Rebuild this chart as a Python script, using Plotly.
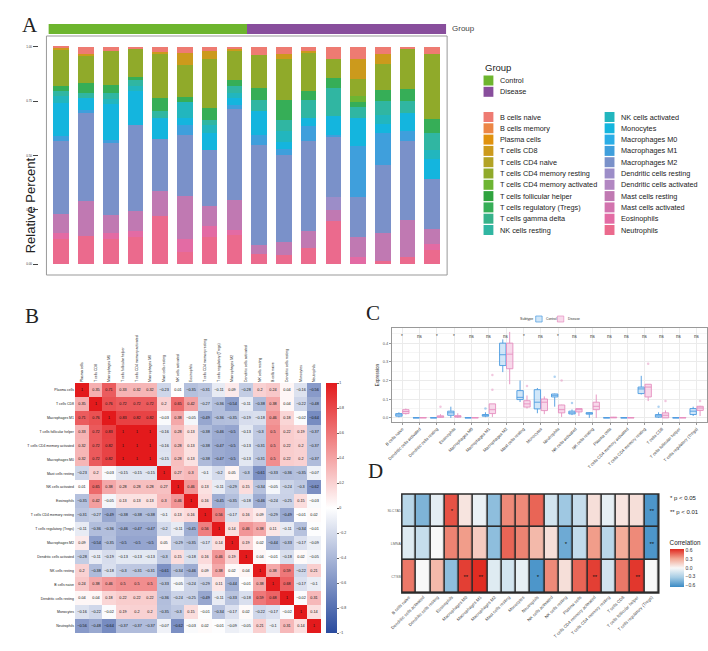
import plotly.graph_objects as go

W, H = 708, 651
def fx(p): return p / W
def fy(p): return 1 - p / H

FONT = "Liberation Sans, Arial, sans-serif"
SERIF = "Liberation Serif, DejaVu Serif, serif"

# ---------------- Panel A data ----------------
cells = ["B cells naive", "B cells memory", "Plasma cells", "T cells CD8", "T cells CD4 naive",
         "T cells CD4 memory resting", "T cells CD4 memory activated", "T cells follicular helper",
         "T cells regulatory (Tregs)", "T cells gamma delta", "NK cells resting", "NK cells activated",
         "Monocytes", "Macrophages M0", "Macrophages M1", "Macrophages M2", "Dendritic cells resting",
         "Dendritic cells activated", "Mast cells resting", "Mast cells activated", "Eosinophils", "Neutrophils"]
cell_colors = ["#EE7B72", "#EC8645", "#E0920E", "#CC9A1C", "#B3A325", "#90AA2A", "#6DB533", "#2FA33E",
               "#36AE57", "#36B28A", "#30B6A2", "#22B6BE", "#14B5DE", "#2AADE6", "#3F9FDC", "#7A91C9",
               "#9C8DC8", "#B287C2", "#C079B2", "#D273AE", "#E36BA4", "#EB6A8D"]
samples = list(range(1, 17))
sample_group = ["Control"] * 8 + ["Disease"] * 8
group_colors = {"Control": "#6DB52E", "Disease": "#884E9C"}
zero = [0] * 16
frac = {
    "B cells naive": [.005, .031, .017, .009, .025, .028, .017, .009, .038, .035, .017, .055, .055, .031, .012, .035],
    "B cells memory": zero,
    "Plasma cells": zero,
    "T cells CD8": [.007, .012, 0, 0, .006, .056, .037, .006, 0, .023, .011, 0, .091, .046, 0, 0],
    "T cells CD4 naive": zero,
    "T cells CD4 memory resting": [.166, .123, .157, .131, .204, .148, .227, .136, .151, .185, .176, .088, .081, .120, .180, .297],
    "T cells CD4 memory activated": [0, 0, 0, 0, 0, 0, 0, 0, 0, 0, 0, 0, .028, 0, 0, 0],
    "T cells follicular helper": zero,
    "T cells regulatory (Tregs)": [.026, .046, .038, .014, .058, .023, .054, .030, .054, .092, .039, .046, .023, .050, .058, .064],
    "T cells gamma delta": zero,
    "NK cells resting": [.023, .023, .028, .027, .034, 0, .023, .031, .050, .051, .084, .130, .049, .065, .054, .077],
    "NK cells activated": [.031, 0, .021, .023, 0, .072, .038, .023, 0, .053, 0, 0, 0, .041, 0, .043],
    "Monocytes": [.154, .054, .166, .157, .097, .031, .077, .031, .111, .031, .039, .085, .131, .043, .085, .092],
    "Macrophages M0": zero,
    "Macrophages M1": [.02, .015, .015, 0, 0, .046, 0, .018, .049, .029, .066, .012, .233, .146, .043, 0],
    "Macrophages M2": [.338, .407, .331, .396, .241, .284, .258, .420, .458, .397, .417, .275, .182, .315, .364, .231],
    "Dendritic cells resting": [0, 0, 0, 0, 0, 0, 0, 0, 0, 0, 0, .059, 0, 0, 0, 0],
    "Dendritic cells activated": zero,
    "Mast cells resting": [.087, .161, .084, .092, .115, .197, .095, .138, .043, .064, .077, .050, .092, .128, .173, .067],
    "Mast cells activated": zero,
    "Eosinophils": [.026, 0, .026, .027, 0, .057, .051, .026, 0, 0, 0, 0, .035, 0, 0, .028],
    "Neutrophils": [.117, .128, .117, .124, .220, .058, .123, .132, .046, .040, .074, .200, 0, .015, .031, .066],
}
a_yticks = [0, 0.25, 0.5, 0.75, 1.0]

# ---------------- Panel B data ----------------
b_names = ["Plasma cells", "T cells CD8", "Macrophages M1", "T cells follicular helper",
           "T cells CD4 memory activated", "Macrophages M0", "Mast cells resting", "NK cells activated",
           "Eosinophils", "T cells CD4 memory resting", "T cells regulatory (Tregs)", "Macrophages M2",
           "Dendritic cells activated", "NK cells resting", "B cells naive", "Dendritic cells resting",
           "Monocytes", "Neutrophils"]
b_corr = [
    [1, 0.35, 0.71, 0.33, 0.32, 0.32, -0.23, 0.01, -0.35, -0.31, -0.11, 0.09, -0.28, 0.2, 0.24, 0.04, -0.16, -0.56],
    [0.35, 1, 0.76, 0.72, 0.72, 0.72, 0.2, 0.65, 0.42, -0.27, -0.36, -0.54, -0.11, -0.38, 0.38, 0.04, -0.22, -0.48],
    [0.71, 0.76, 1, 0.83, 0.82, 0.82, -0.03, 0.38, -0.05, -0.49, -0.36, -0.35, -0.19, -0.18, 0.46, 0.18, -0.02, -0.64],
    [0.33, 0.72, 0.83, 1, 1, 1, -0.16, 0.28, 0.13, -0.38, -0.46, -0.5, -0.13, -0.3, 0.5, 0.22, 0.19, -0.37],
    [0.32, 0.72, 0.82, 1, 1, 1, -0.16, 0.28, 0.13, -0.38, -0.47, -0.5, -0.13, -0.31, 0.5, 0.22, 0.2, -0.37],
    [0.32, 0.72, 0.82, 1, 1, 1, -0.15, 0.28, 0.13, -0.38, -0.47, -0.5, -0.13, -0.31, 0.5, 0.22, 0.2, -0.37],
    [-0.23, 0.2, -0.03, -0.15, -0.15, -0.15, 1, 0.27, 0.3, -0.1, -0.2, 0.05, -0.3, -0.61, -0.33, -0.36, -0.35, -0.07],
    [0.01, 0.65, 0.38, 0.28, 0.28, 0.28, 0.27, 1, 0.46, 0.13, -0.11, -0.29, 0.15, -0.34, -0.05, -0.24, -0.3, -0.62],
    [-0.35, 0.42, -0.05, 0.13, 0.13, 0.13, 0.3, 0.46, 1, 0.16, -0.45, -0.35, -0.18, -0.46, -0.24, -0.25, 0.15, -0.03],
    [-0.31, -0.27, -0.49, -0.38, -0.38, -0.38, -0.1, 0.13, 0.16, 1, 0.56, -0.17, 0.16, 0.09, -0.29, -0.49, -0.01, 0.02],
    [-0.11, -0.36, -0.36, -0.46, -0.47, -0.47, -0.2, -0.11, -0.45, 0.56, 1, 0.14, 0.46, 0.38, 0.11, -0.11, -0.34, -0.01],
    [0.09, -0.54, -0.35, -0.5, -0.5, -0.5, 0.05, -0.29, -0.35, -0.17, 0.14, 1, 0.19, 0.02, -0.44, -0.33, -0.17, -0.09],
    [-0.28, -0.11, -0.19, -0.13, -0.13, -0.13, -0.3, 0.15, -0.18, 0.16, 0.46, 0.19, 1, 0.04, -0.01, -0.18, 0.02, -0.05],
    [0.2, -0.38, -0.18, -0.3, -0.31, -0.31, -0.61, -0.34, -0.46, 0.09, 0.38, 0.02, 0.04, 1, 0.38, 0.59, -0.22, 0.21],
    [0.24, 0.38, 0.46, 0.5, 0.5, 0.5, -0.33, -0.05, -0.24, -0.29, 0.11, -0.44, -0.01, 0.38, 1, 0.68, -0.17, -0.1],
    [0.04, 0.04, 0.18, 0.22, 0.22, 0.22, -0.36, -0.24, -0.25, -0.49, -0.11, -0.33, -0.18, 0.59, 0.68, 1, -0.02, 0.31],
    [-0.16, -0.22, -0.02, 0.19, 0.2, 0.2, -0.35, -0.3, 0.15, -0.01, -0.34, -0.17, 0.02, -0.22, -0.17, -0.02, 1, 0.14],
    [-0.56, -0.48, -0.64, -0.37, -0.37, -0.37, -0.07, -0.62, -0.03, 0.02, -0.01, -0.09, -0.05, 0.21, -0.1, 0.31, 0.14, 1],
]
b_ticks = [-1, -0.8, -0.6, -0.4, -0.2, 0, 0.2, 0.4, 0.6, 0.8, 1]

# ---------------- Panel C data ----------------
c_names = ["B cells naive", "Dendritic cells activated", "Dendritic cells resting", "Eosinophils",
           "Macrophages M0", "Macrophages M1", "Macrophages M2", "Mast cells resting", "Monocytes",
           "Neutrophils", "NK cells activated", "NK cells resting", "Plasma cells",
           "T cells CD4 memory activated", "T cells CD4 memory resting", "T cells CD8",
           "T cells follicular helper", "T cells regulatory (Tregs)"]
c_sig = ["*", "ns", "*", "*", "ns", "ns", "ns", "*", "ns", "*", "ns", "ns", "ns", "ns", "ns", "ns", "ns", "ns"]
ctrl_lo = [0.003, 0, 0, 0.0, 0, 0.004, 0.245, 0.085, 0.025, 0.06, 0.015, 0.0, 0, 0, 0.125, 0.0, 0, 0.01]
ctrl_q1 = [0.009, 0, 0, 0.014, 0, 0.009, 0.28, 0.098, 0.048, 0.112, 0.021, 0.02, 0, 0, 0.13, 0.004, 0, 0.018]
ctrl_med = [0.016, 0, 0, 0.027, 0, 0.014, 0.338, 0.11, 0.084, 0.121, 0.027, 0.025, 0, 0, 0.155, 0.011, 0, 0.036]
ctrl_q3 = [0.023, 0.001, 0.001, 0.036, 0.001, 0.018, 0.40, 0.146, 0.151, 0.128, 0.036, 0.028, 0.001, 0.001, 0.165, 0.018, 0.001, 0.05]
ctrl_hi = [0.03, 0.002, 0.002, 0.06, 0.002, 0.03, 0.42, 0.2, 0.16, 0.13, 0.045, 0.03, 0.002, 0.002, 0.225, 0.03, 0.002, 0.06]
dis_lo = [0.018, 0, 0, 0.0, 0, 0.005, 0.18, 0.05, 0.02, 0.005, 0.01, 0.0, 0, 0, 0.09, 0.0, 0, 0.01]
dis_q1 = [0.023, 0, 0.003, 0.004, 0, 0.023, 0.263, 0.058, 0.039, 0.027, 0.032, 0.044, 0, 0, 0.112, 0.0, 0, 0.04]
dis_med = [0.034, 0, 0.006, 0.008, 0, 0.044, 0.341, 0.075, 0.084, 0.044, 0.044, 0.062, 0.002, 0, 0.165, 0.014, 0, 0.053]
dis_q3 = [0.044, 0.002, 0.011, 0.012, 0.002, 0.075, 0.40, 0.092, 0.101, 0.069, 0.05, 0.084, 0.004, 0.002, 0.18, 0.027, 0.002, 0.062]
dis_hi = [0.05, 0.003, 0.02, 0.025, 0.004, 0.075, 0.46, 0.12, 0.115, 0.07, 0.05, 0.125, 0.005, 0.003, 0.18, 0.04, 0.003, 0.065]
# outliers: (category index, group, value)
c_outliers = [(5, "Control", 0.05), (10, "Control", 0.08), (9, "Control", 0.22), (15, "Control", 0.06),
              (2, "Disease", 0.06), (5, "Disease", 0.15), (5, "Disease", 0.23), (7, "Disease", 0.17),
              (9, "Disease", 0.2), (14, "Disease", 0.29), (15, "Disease", 0.09), (17, "Disease", 0.09)]

# ---------------- Panel D data ----------------
d_genes = ["SLC7A5", "LMNA", "CTSB"]
d_corr = [
    [-0.25, -0.45, -0.08, 0.55, 0.08, -0.05, -0.4, 0.4, 0.4, 0.5, -0.15, -0.35, -0.2, 0.1, -0.07, 0.08, 0.1, -0.6],
    [-0.1, -0.2, 0.0, 0.42, 0.35, 0.18, -0.4, 0.5, 0.42, 0.25, 0.1, -0.5, -0.22, 0.35, -0.25, 0.3, 0.4, -0.6],
    [0.45, 0.0, 0.25, -0.4, 0.6, 0.65, -0.1, -0.15, -0.07, -0.6, 0.4, 0.1, 0.5, 0.6, -0.15, 0.45, 0.62, 0.0],
]
d_stars = [
    ["", "", "", "*", "", "", "", "", "", "", "", "", "", "", "", "", "", "**"],
    ["", "", "", "", "", "", "", "", "", "", "", "*", "", "", "", "", "", "**"],
    ["", "", "", "", "**", "**", "", "", "", "*", "", "", "", "**", "", "", "**", ""],
]
d_ticks = [-0.6, -0.3, 0.0, 0.3, 0.6]

def fmt(v):
    return f"{v:g}".replace("-", "\u2212")

fig = go.Figure()

# Panel A stacked bars (first factor level on top)
for name, col in reversed(list(zip(cells, cell_colors))):
    fig.add_trace(go.Bar(x=samples, y=frac[name], name=name, marker=dict(color=col, line=dict(width=0)),
                         width=0.63, xaxis="x", yaxis="y", showlegend=False))

# Group annotation bar
grp_levels = list(group_colors)
fig.add_trace(go.Heatmap(z=[[grp_levels.index(g) for g in sample_group]], x=samples, y=["Group"],
                         colorscale=[[0, group_colors["Control"]], [0.5, group_colors["Control"]],
                                     [0.5, group_colors["Disease"]], [1, group_colors["Disease"]]],
                         zmin=0, zmax=1, showscale=False, xaxis="x2", yaxis="y2", hoverinfo="skip"))

# Panel B correlation heatmap
fig.add_trace(go.Heatmap(z=b_corr, x=b_names, y=b_names, zmin=-1, zmax=1,
                         colorscale=[[0, "#2A4B9E"], [0.5, "#FFFFFF"], [1, "#E31A1C"]],
                         text=[[fmt(v) for v in row] for row in b_corr], texttemplate="%{text}",
                         textfont=dict(size=3.8, color="#111", family=FONT),
                         xaxis="x3", yaxis="y3",
                         colorbar=dict(x=fx(320), xanchor="left", y=fy(508), yanchor="middle",
                                       len=250, lenmode="pixels", thickness=11, xpad=0, ypad=0,
                                       tickvals=b_ticks, ticks="outside", ticklen=2, tickcolor="#666",
                                       tickfont=dict(size=3.5, color="#333", family=FONT), outlinewidth=0)))

# Panel C box plots
box_specs = [("Control", ctrl_lo, ctrl_q1, ctrl_med, ctrl_q3, ctrl_hi, "#4C9BE0", "rgba(140,195,240,0.40)"),
             ("Disease", dis_lo, dis_q1, dis_med, dis_q3, dis_hi, "#E58FC0", "rgba(240,170,210,0.45)")]
c_x = list(range(len(c_names)))
for gname, lo, q1, med, q3, hi, lc, fc in box_specs:
    fig.add_trace(go.Box(x=c_x, lowerfence=lo, q1=q1, median=med, q3=q3, upperfence=hi, name=gname,
                         offsetgroup=gname, line=dict(color=lc, width=0.9), fillcolor=fc,
                         whiskerwidth=0, boxpoints=False, xaxis="x4", yaxis="y4", showlegend=False))
off = 0.2
for gname, sign, col in [("Control", -1, "rgba(76,155,224,0.45)"), ("Disease", 1, "rgba(229,143,192,0.5)")]:
    pts = [(i, v) for i, g, v in c_outliers if g == gname]
    fig.add_trace(go.Scatter(x=[i + sign * off for i, v in pts], y=[v for i, v in pts], mode="markers",
                             marker=dict(size=2.5, color=col), xaxis="x4", yaxis="y4", showlegend=False))

# Panel D heatmap
fig.add_trace(go.Heatmap(z=d_corr, x=c_names, y=d_genes, zmin=-0.66, zmax=0.66,
                         colorscale=[[0, "#3A8AC4"], [0.25, "#A5CCE4"], [0.5, "#F8F8F8"],
                                     [0.75, "#F2A591"], [1, "#E0281F"]],
                         text=d_stars, texttemplate="%{text}", textfont=dict(size=6, color="#111", family=FONT),
                         xgap=1.6, ygap=1.6, xaxis="x5", yaxis="y5",
                         colorbar=dict(x=fx(669), xanchor="left", y=fy(562), yanchor="middle",
                                       len=50, lenmode="pixels", thickness=14, xpad=0, ypad=0,
                                       title=dict(text="Correlation", side="top",
                                                  font=dict(size=6.3, color="#222", family=FONT)),
                                       tickvals=d_ticks, ticktext=[f"{v:.1f}".replace("-", "\u2212") for v in d_ticks],
                                       ticks="", tickfont=dict(size=5, color="#333", family=FONT), outlinewidth=0)))

shapes = []
annotations = []

# Panel A frame
shapes.append(dict(type="rect", xref="x domain", yref="y domain", x0=0, x1=1, y0=0, y1=1,
                   line=dict(color="#999", width=1)))
# Panel D background (grid lines) and frame
shapes.append(dict(type="rect", xref="x5 domain", yref="y5 domain", x0=0, x1=1, y0=0, y1=1,
                   fillcolor="#2B2B2B", line=dict(width=0), layer="below"))
shapes.append(dict(type="rect", xref="x5 domain", yref="y5 domain", x0=0, x1=1, y0=0, y1=1,
                   line=dict(color="#2B2B2B", width=1.5)))

# Panel A legend (Group)
annotations.append(dict(text="Group", x=fx(479), y=fy(67), xref="paper", yref="paper", xanchor="left",
                        yanchor="middle", showarrow=False, font=dict(size=9.5, color="#222", family=FONT)))
for k, g in enumerate(grp_levels):
    yc = 80.5 + k * 11.3
    shapes.append(dict(type="rect", xref="paper", yref="paper", x0=fx(480), x1=fx(490),
                       y0=fy(yc + 5), y1=fy(yc - 5), fillcolor=group_colors[g], line=dict(width=0)))
    annotations.append(dict(text=g, x=fx(494.5), y=fy(yc), xref="paper", yref="paper", xanchor="left",
                            yanchor="middle", showarrow=False, font=dict(size=7.3, color="#222", family=FONT)))
# Panel A legend (cells)
for i, (name, col) in enumerate(zip(cells, cell_colors)):
    c, r = divmod(i, 11)
    x0 = 480 + c * 123
    yc = 117 + r * 11.3
    shapes.append(dict(type="rect", xref="paper", yref="paper", x0=fx(x0), x1=fx(x0 + 10),
                       y0=fy(yc + 5), y1=fy(yc - 5), fillcolor=col, line=dict(width=0)))
    annotations.append(dict(text=name, x=fx(x0 + 14.5), y=fy(yc), xref="paper", yref="paper", xanchor="left",
                            yanchor="middle", showarrow=False, font=dict(size=7.3, color="#222", family=FONT)))

annotations.append(dict(text="Group", x=fx(446), y=fy(29), xref="paper", yref="paper", xanchor="left",
                        yanchor="middle", showarrow=False, font=dict(size=8, color="#444", family=FONT)))
annotations.append(dict(text="Relative Percent", x=fx(10), y=fy(155), xref="paper", yref="paper",
                        textangle=-90, showarrow=False, font=dict(size=13, color="#222", family=FONT)))

# Panel letters
for letter, px, py in [("A", 9, 11), ("B", 12, 316), ("C", 368, 313), ("D", 370, 485)]:
    annotations.append(dict(text=letter, x=fx(px), y=fy(py), xref="paper", yref="paper", showarrow=False,
                            font=dict(size=21, color="#222", family=SERIF)))

# Panel C significance labels
for i, s in enumerate(c_sig):
    annotations.append(dict(text=s, x=i, xref="x4", y=0.955, yref="y4 domain", showarrow=False,
                            font=dict(size=4.5, color="#333", family=FONT)))
# Panel C legend
annotations.append(dict(text="Subtype", x=fx(515), y=fy(319), xref="paper", yref="paper", xanchor="left",
                        showarrow=False, font=dict(size=3.6, color="#333", family=FONT)))
for (gname, lc, fc), x0 in zip([(b[0], b[6], b[7]) for b in box_specs], [533, 555]):
    shapes.append(dict(type="rect", xref="paper", yref="paper", x0=fx(x0), x1=fx(x0 + 6.5),
                       y0=fy(322), y1=fy(316), fillcolor=fc, line=dict(color=lc, width=0.7)))
    annotations.append(dict(text=gname, x=fx(x0 + 8.5), y=fy(319), xref="paper", yref="paper",
                            xanchor="left", showarrow=False, font=dict(size=3.3, color="#333", family=FONT)))

# Panel D p-value legend
for txt, py in [("* p < 0.05", 503), ("** p < 0.01", 517)]:
    annotations.append(dict(text=txt, x=fx(667), y=fy(py), xref="paper", yref="paper", xanchor="left",
                            showarrow=False, font=dict(size=6, color="#222", family=FONT)))

fig.update_layout(
    width=W, height=H, margin=dict(l=0, r=0, t=0, b=0), autosize=False,
    paper_bgcolor="white", plot_bgcolor="white", barmode="stack", barnorm="fraction",
    boxmode="group", boxgap=0.2, boxgroupgap=0.08,
    font=dict(family=FONT), showlegend=False,
    shapes=shapes, annotations=annotations,
    xaxis=dict(domain=[fx(36), fx(443)], range=[0.4, 16.6], visible=False, anchor="y"),
    yaxis=dict(domain=[fy(275), fy(36)], range=[-0.05, 1.05], anchor="free", position=fx(27),
               tickvals=a_yticks, ticktext=[f"{v:.2f}" for v in a_yticks], ticks="outside", ticklen=5,
               tickcolor="#444", tickfont=dict(size=3, color="#333"), showgrid=False, zeroline=False,
               showline=False),
    xaxis2=dict(domain=[fx(38), fx(442)], range=[0.5, 16.5], visible=False, anchor="y2"),
    yaxis2=dict(domain=[fy(34), fy(24)], visible=False, anchor="x2"),
    xaxis3=dict(domain=[fx(65), fx(315)], side="top", tickangle=-90, anchor="y3", showgrid=False,
                ticks="", tickfont=dict(size=3.5, color="#222"), zeroline=False),
    yaxis3=dict(domain=[fy(633), fy(383)], autorange="reversed", anchor="x3", showgrid=False, ticks="",
                tickfont=dict(size=3.5, color="#222"), zeroline=False),
    xaxis4=dict(domain=[fx(387), fx(707)], range=[-0.6, 17.6], tickvals=c_x, ticktext=c_names,
                tickangle=-45, tickfont=dict(size=4.2, color="#333"), showgrid=True, gridcolor="#EBEBEB",
                showline=True, mirror=True, linecolor="#999", linewidth=0.8, ticks="outside", ticklen=2,
                tickcolor="#999", anchor="y4", zeroline=False),
    yaxis4=dict(domain=[fy(422), fy(328)], range=[-0.022, 0.481], tickvals=[0, 0.1, 0.2, 0.3, 0.4],
                ticktext=["0.0", "0.1", "0.2", "0.3", "0.4"], tickfont=dict(size=4, color="#555"),
                gridcolor="#EBEBEB", showline=True, mirror=True, linecolor="#999", linewidth=0.8,
                ticks="outside", ticklen=2, tickcolor="#999", anchor="x4", zeroline=False,
                minor=dict(dtick=0.05, showgrid=True, gridcolor="#F5F5F5"),
                title=dict(text="Expression", font=dict(size=4.5, color="#222"), standoff=3)),
    xaxis5=dict(domain=[fx(397), fx(658)], range=[-0.5, 17.5], tickangle=-45, anchor="y5",
                tickfont=dict(size=4.3, color="#444"), showgrid=False, ticks="", zeroline=False),
    yaxis5=dict(domain=[fy(593), fy(494)], autorange="reversed", anchor="x5", showgrid=False, ticks="",
                tickfont=dict(size=3.6, color="#666"), zeroline=False),
)

fig.write_html("out.html")
